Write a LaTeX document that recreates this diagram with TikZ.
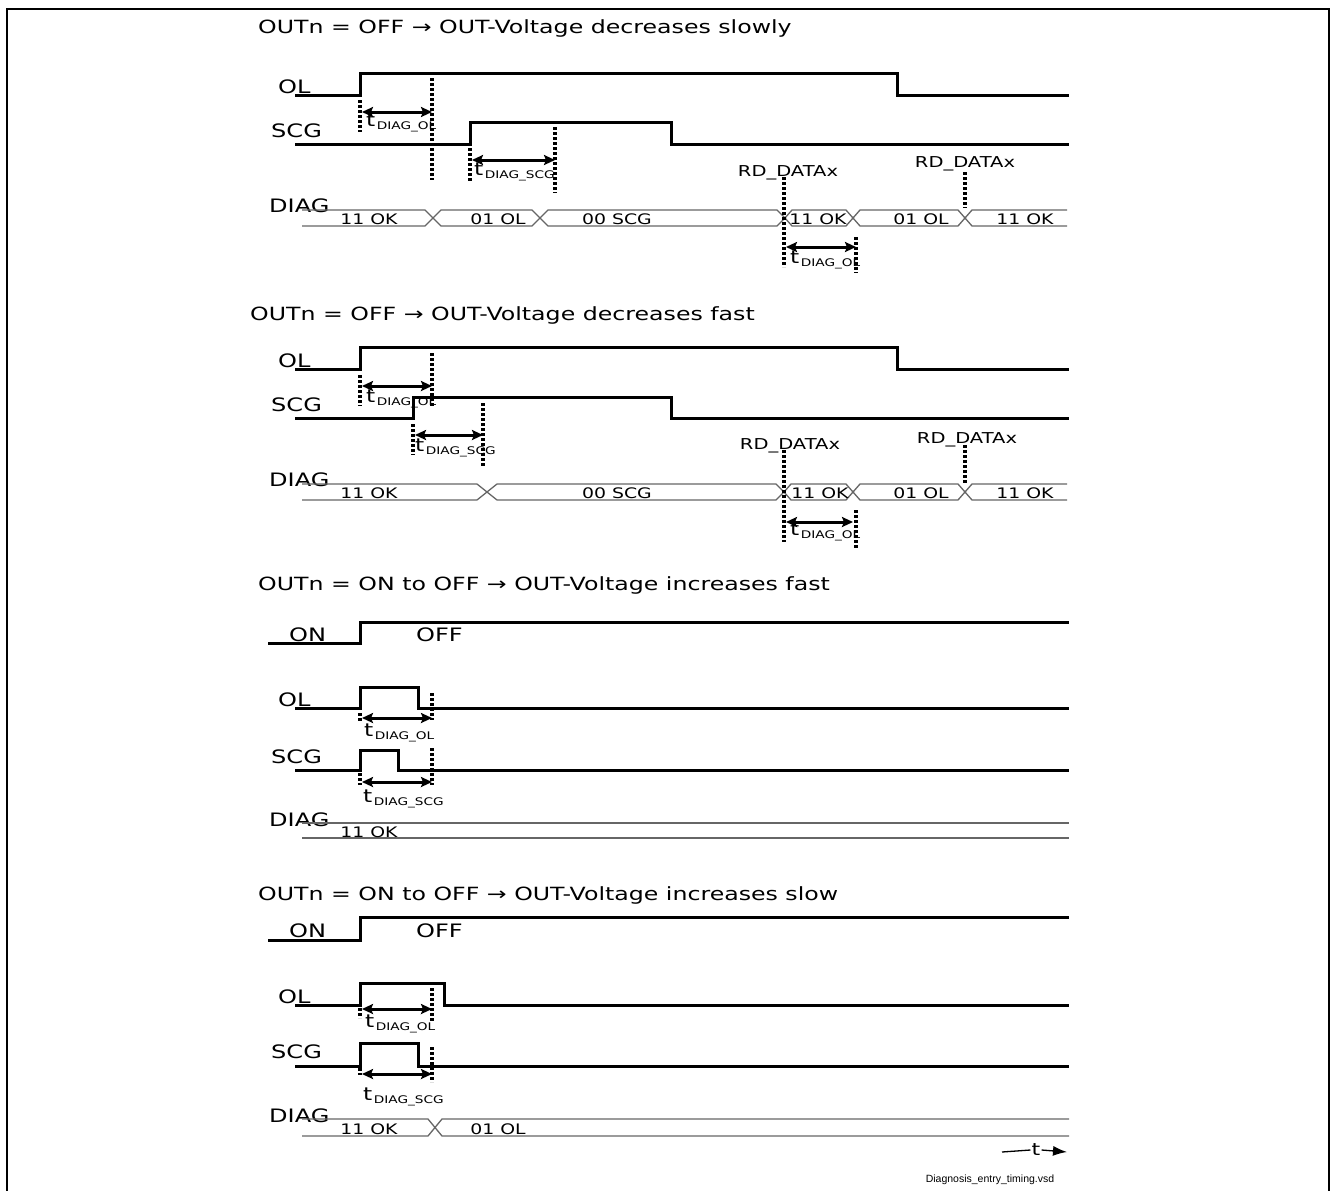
\documentclass[tikz,border=0pt]{standalone}
\usepackage{fontspec}
\setmainfont{DejaVu Sans}[FakeStretch=1.3]
\newfontfamily\footfont{Liberation Sans}
\usetikzlibrary{arrows.meta}
\newcommand{\tsub}[1]{{\fontsize{18}{20}\selectfont t}\hspace{1.5pt}\raisebox{-3pt}{\fontsize{10.5}{12}\selectfont #1}}
\begin{document}
\begin{tikzpicture}[x=1pt,y=-1pt,
  sig/.style={line width=3pt, line join=miter},
  bus/.style={line width=1.3pt, draw=black!60},
  dotln/.style={line width=4pt, dash pattern=on 3pt off 2pt},
  tarrow/.style={line width=3pt, arrows={Stealth[length=11pt,width=10pt,inset=2pt]-Stealth[length=11pt,width=10pt,inset=2pt]}},
  titletxt/.style={anchor=base west, inner sep=0pt, font=\fontsize{18.2}{22}\selectfont},
  lbl/.style={anchor=base west, inner sep=0pt, font=\fontsize{18.5}{22}\selectfont},
  rdlbl/.style={anchor=base, inner sep=0pt, font=\fontsize{15}{18}\selectfont},
  buslbl/.style={anchor=base, inner sep=0pt, font=\fontsize{14.5}{17}\selectfont},
  tlbl/.style={anchor=base west, inner sep=0pt},
]
\useasboundingbox (0,0) rectangle (1331,1191);
\fill[white] (0,0) rectangle (1331,1191);
% frame
\draw[line width=1.5pt] (7,1195) -- (7,9) -- (1329,9) -- (1329,1195);

% ================= Section 1 =================
\node[titletxt] (t1) at (258,33) {OUTn = OFF → OUT-Voltage decreases slowly};
\node[lbl] (ol1) at (278,93) {OL};
\node[lbl] (scg1) at (271,137) {SCG};
\node[lbl] (diag1) at (269,212) {DIAG};
\draw[sig] (295,95) -- (360,95) -- (360,73) -- (897,73) -- (897,95) -- (1069,95);
\draw[sig] (295,144) -- (470,144) -- (470,122) -- (671,122) -- (671,144) -- (1069,144);
% bus
\begin{scope}[bus]
\draw (302,210) -- (425,210) -- (433,218) -- (425,226) -- (302,226);
\draw (532,210) -- (441,210) -- (433,218) -- (441,226) -- (532,226) -- (540,218) -- cycle;
\draw (777,210) -- (548,210) -- (540,218) -- (548,226) -- (777,226) -- (785,218) -- cycle;
\draw (846,210) -- (792,210) -- (785,218) -- (792,226) -- (846,226) -- (853,218) -- cycle;
\draw (958,210) -- (860,210) -- (853,218) -- (860,226) -- (958,226) -- (965,218) -- cycle;
\draw (1067,210) -- (972,210) -- (965,218) -- (972,226) -- (1067,226);
\end{scope}
\node[buslbl] (b1a) at (369,224) {11 OK};
\node[buslbl] (b1b) at (498,224) {01 OL};
\node[buslbl] (b1c) at (617,224) {00 SCG};
\node[buslbl] (b1d) at (818,224) {11 OK};
\node[buslbl] (b1e) at (921,224) {01 OL};
\node[buslbl] (b1f) at (1025,224) {11 OK};
\node[rdlbl] (rd1a) at (788,176) {RD\_DATAx};
\node[rdlbl] (rd1b) at (965,167) {RD\_DATAx};
% dotted markers
\draw[dotln] (360,100) -- (360,132);
\draw[dotln] (432,78) -- (432,180);
\draw[dotln] (470,148) -- (470,182);
\draw[dotln] (555,127) -- (555,193);
\draw[dotln] (784,177) -- (784,267);
\draw[dotln] (965,172) -- (965,208);
\draw[dotln] (856,237) -- (856,273);
\coordinate (a1l) at (362,112); \coordinate (a1r) at (432,112);
\coordinate (a2l) at (472,160); \coordinate (a2r) at (555,160);
\coordinate (a3l) at (786,247); \coordinate (a3r) at (856,247);
\draw[tarrow] (a1l) -- (a1r);
\draw[tarrow] (a2l) -- (a2r);
\draw[tarrow] (a3l) -- (a3r);
\node[tlbl] (td1a) at (366,126) {\tsub{DIAG\_OL}};
\node[tlbl] (td1b) at (474,175) {\tsub{DIAG\_SCG}};
\node[tlbl] (td1c) at (790,263) {\tsub{DIAG\_OL}};

% ================= Section 2 =================
\node[titletxt] (t2) at (250,320) {OUTn = OFF → OUT-Voltage decreases fast};
\node[lbl] (ol2) at (278,367) {OL};
\node[lbl] (scg2) at (271,411) {SCG};
\node[lbl] (diag2) at (269,486) {DIAG};
\draw[sig] (295,369) -- (360,369) -- (360,347) -- (897,347) -- (897,369) -- (1069,369);
\draw[sig] (295,418) -- (413,418) -- (413,397) -- (671,397) -- (671,418) -- (1069,418);
\begin{scope}[bus]
\draw (302,484) -- (477,484) -- (487,492) -- (477,500) -- (302,500);
\draw (776,484) -- (497,484) -- (487,492) -- (497,500) -- (776,500) -- (784,492) -- cycle;
\draw (846,484) -- (791,484) -- (784,492) -- (791,500) -- (846,500) -- (853,492) -- cycle;
\draw (958,484) -- (860,484) -- (853,492) -- (860,500) -- (958,500) -- (965,492) -- cycle;
\draw (1067,484) -- (972,484) -- (965,492) -- (972,500) -- (1067,500);
\end{scope}
\node[buslbl] (b2a) at (369,498) {11 OK};
\node[buslbl] (b2b) at (617,498) {00 SCG};
\node[buslbl] (b2c) at (820,498) {11 OK};
\node[buslbl] (b2d) at (921,498) {01 OL};
\node[buslbl] (b2e) at (1025,498) {11 OK};
\node[rdlbl] (rd2a) at (790,449) {RD\_DATAx};
\node[rdlbl] (rd2b) at (967,443) {RD\_DATAx};
\draw[dotln] (360,375) -- (360,406);
\draw[dotln] (432,353) -- (432,407);
\draw[dotln] (413,424) -- (413,455);
\draw[dotln] (483,403) -- (483,467);
\draw[dotln] (784,450) -- (784,542);
\draw[dotln] (965,445) -- (965,483);
\draw[dotln] (856,510) -- (856,548);
\coordinate (a4l) at (362,386); \coordinate (a4r) at (432,386);
\coordinate (a5l) at (415,435); \coordinate (a5r) at (483,435);
\coordinate (a6l) at (786,522); \coordinate (a6r) at (853,522);
\draw[tarrow] (a4l) -- (a4r);
\draw[tarrow] (a5l) -- (a5r);
\draw[tarrow] (a6l) -- (a6r);
\node[tlbl] (td2a) at (366,402) {\tsub{DIAG\_OL}};
\node[tlbl] (td2b) at (415,451) {\tsub{DIAG\_SCG}};
\node[tlbl] (td2c) at (790,535) {\tsub{DIAG\_OL}};

% ================= Section 3 =================
\node[titletxt] (t3) at (258,590) {OUTn = ON to OFF → OUT-Voltage increases fast};
\node[lbl] (on3) at (289,641) {ON};
\node[lbl] (off3) at (416,641) {OFF};
\node[lbl] (ol3) at (278,706) {OL};
\node[lbl] (scg3) at (271,763) {SCG};
\node[lbl] (diag3) at (269,826) {DIAG};
\draw[sig] (268,643) -- (360,643) -- (360,622) -- (1069,622);
\draw[sig] (295,708) -- (360,708) -- (360,687) -- (418,687) -- (418,708) -- (1069,708);
\draw[sig] (295,770) -- (360,770) -- (360,750) -- (398,750) -- (398,770) -- (1069,770);
\begin{scope}[bus]
\draw (302,823) -- (1069,823);
\draw (302,838) -- (1069,838);
\end{scope}
\node[buslbl] (b3a) at (369,837) {11 OK};
\draw[dotln] (360,713) -- (360,722);
\draw[dotln] (432,693) -- (432,720);
\draw[dotln] (360,773) -- (360,785);
\draw[dotln] (432,748) -- (432,785);
\coordinate (a7l) at (362,718); \coordinate (a7r) at (432,718);
\coordinate (a8l) at (362,782); \coordinate (a8r) at (432,782);
\draw[tarrow] (a7l) -- (a7r);
\draw[tarrow] (a8l) -- (a8r);
\node[tlbl] (td3a) at (364,736) {\tsub{DIAG\_OL}};
\node[tlbl] (td3b) at (363,802) {\tsub{DIAG\_SCG}};

% ================= Section 4 =================
\node[titletxt] (t4) at (258,900) {OUTn = ON to OFF → OUT-Voltage increases slow};
\node[lbl] (on4) at (289,937) {ON};
\node[lbl] (off4) at (416,937) {OFF};
\node[lbl] (ol4) at (278,1003) {OL};
\node[lbl] (scg4) at (271,1058) {SCG};
\node[lbl] (diag4) at (269,1122) {DIAG};
\draw[sig] (268,940) -- (360,940) -- (360,917) -- (1069,917);
\draw[sig] (295,1005) -- (360,1005) -- (360,983) -- (444,983) -- (444,1005) -- (1069,1005);
\draw[sig] (295,1066) -- (360,1066) -- (360,1043) -- (418,1043) -- (418,1066) -- (1069,1066);
\begin{scope}[bus]
\draw (302,1119) -- (428,1119) -- (435,1127.5) -- (428,1136) -- (302,1136);
\draw (1069,1119) -- (442,1119) -- (435,1127.5) -- (442,1136) -- (1069,1136);
\end{scope}
\node[buslbl] (b4a) at (369,1134) {11 OK};
\node[buslbl] (b4b) at (498,1134) {01 OL};
\draw[dotln] (360,1008) -- (360,1018);
\draw[dotln] (432,988) -- (432,1022);
\draw[dotln] (360,1068) -- (360,1075);
\draw[dotln] (432,1047) -- (432,1082);
\coordinate (a9l) at (362,1009); \coordinate (a9r) at (432,1009);
\coordinate (a10l) at (362,1074); \coordinate (a10r) at (432,1074);
\draw[tarrow] (a9l) -- (a9r);
\draw[tarrow] (a10l) -- (a10r);
\node[tlbl] (td4a) at (365,1027) {\tsub{DIAG\_OL}};
\node[tlbl] (td4b) at (363,1100) {\tsub{DIAG\_SCG}};

% ================= time axis and footer =================
\coordinate (ts) at (1002,1152);
\coordinate (te) at (1067,1152);
\node[inner sep=1pt, font=\fontsize{17}{19}\selectfont] (tt) at (1036,1150) {t};
\draw[line width=1.3pt] (ts) -- (tt.west);
\draw[line width=1.3pt, -{Latex[length=14pt,width=10pt]}] (tt.east) -- (te);
\node[anchor=base, inner sep=0pt, font=\footfont\fontsize{10.5}{12}\selectfont] (foot) at (990,1182) {Diagnosis\_entry\_timing.vsd};
\end{tikzpicture}
\end{document}
